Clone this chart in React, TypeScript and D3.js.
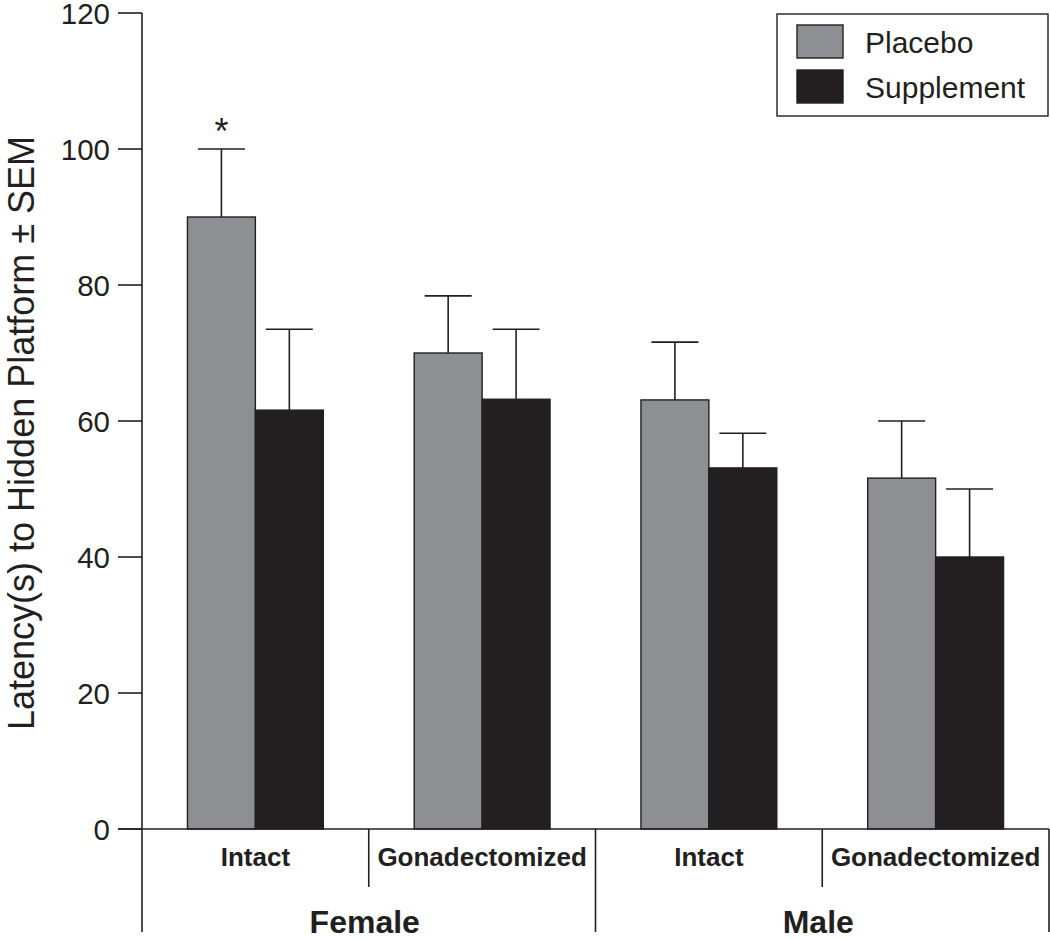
import React from "react";
import * as d3 from "d3";

const sexes = ["Female", "Male"];
const conditions = ["Intact", "Gonadectomized"];
const groups = ["Female-Intact", "Female-Gonadectomized", "Male-Intact", "Male-Gonadectomized"];
const series = ["Placebo", "Supplement"];
const placeboMeans = [90, 70, 63.1, 51.6];
const placeboSEM = [10, 8.4, 8.5, 8.4];
const supplementMeans = [61.6, 63.2, 53.1, 40];
const supplementSEM = [11.9, 10.3, 5.1, 10];
const yTicks = [0, 20, 40, 60, 80, 100, 120];
const significant = [true, false, false, false];
const colors = ["#8e8f93", "#231f20"];

export default function App() {
  const W = 1050, H = 939;
  const axisX = 142, x1 = 1049;
  const y = d3.scaleLinear().domain([0, 120]).range([829, 13]);
  const xg = d3.scaleBand().domain(groups).range([axisX, x1]).paddingInner(0).paddingOuter(0);
  const xs = d3.scaleBand().domain(series).range([0, xg.bandwidth()]).paddingInner(0).paddingOuter(0.5 * (227 - 136) / 68);
  const values = [placeboMeans, supplementMeans];
  const sems = [placeboSEM, supplementSEM];
  const font = "'Liberation Sans', Arial, Helvetica, sans-serif";
  const stroke = "#231f20";
  const y0 = y(0);
  const bw = xs.bandwidth();

  return (
    <svg width={W} height={H} style={{ position: "absolute", left: 0, top: 0 }} fontFamily={font}>
      <rect width={W} height={H} fill="#fff" />
      {/* bars */}
      {groups.map((g, gi) =>
        series.map((s, si) => {
          const v = values[si][gi];
          const bx = (xg(g) as number) + (xs(s) as number);
          const cx = bx + bw / 2;
          const top = y(v + sems[si][gi]);
          return (
            <g key={g + s}>
              <line x1={cx} x2={cx} y1={y(v)} y2={top} stroke={stroke} strokeWidth={1.6} />
              <line x1={cx - 23.5} x2={cx + 23.5} y1={top} y2={top} stroke={stroke} strokeWidth={1.6} />
              <rect x={bx} y={y(v)} width={bw} height={y0 - y(v)} fill={colors[si]} stroke={stroke} strokeWidth={1.4} />
              {si === 0 && significant[gi] && (
                <text x={cx} y={top - 5} textAnchor="middle" fontSize={36} fill={stroke}>*</text>
              )}
            </g>
          );
        })
      )}
      {/* y axis */}
      <line x1={axisX} x2={axisX} y1={y(120)} y2={932} stroke={stroke} strokeWidth={1.6} />
      {yTicks.map((t) => (
        <g key={t}>
          <line x1={118} x2={axisX} y1={y(t)} y2={y(t)} stroke={stroke} strokeWidth={1.6} />
          <text x={110} y={y(t)} dy="0.37em" textAnchor="end" fontSize={29.5} fill={stroke}>{t}</text>
        </g>
      ))}
      {/* x axis */}
      <line x1={118} x2={x1} y1={y0} y2={y0} stroke={stroke} strokeWidth={1.6} />
      {groups.map((g, gi) => {
        const gx = xg(g) as number;
        return (
          <g key={g}>
            {gi > 0 && (
              <line x1={gx} x2={gx} y1={y0} y2={gi % 2 === 0 ? 932 : 887} stroke={stroke} strokeWidth={1.6} />
            )}
            <text x={gx + xg.bandwidth() / 2} y={866} textAnchor="middle" fontSize={26} fontWeight="bold" fill={stroke}>
              {conditions[gi % 2]}
            </text>
          </g>
        );
      })}
      <line x1={x1} x2={x1} y1={y0} y2={932} stroke={stroke} strokeWidth={1.6} />
      {sexes.map((s, i) => {
        const gx = xg(groups[i * 2]) as number;
        return (
          <text key={s} x={gx + xg.bandwidth() - 4} y={933} textAnchor="middle" fontSize={32} fontWeight="bold" fill={stroke}>
            {s}
          </text>
        );
      })}
      {/* y label */}
      <text transform={`translate(34, 433) rotate(-90)`} textAnchor="middle" fontSize={36} fill={stroke}>
        Latency(s) to Hidden Platform ± SEM
      </text>
      {/* legend */}
      <rect x={777} y={14} width={271} height={102} fill="#fff" stroke={stroke} strokeWidth={1.4} />
      {series.map((s, i) => (
        <g key={s}>
          <rect x={797} y={25 + i * 45} width={46} height={33} fill={colors[i]} stroke={stroke} strokeWidth={1.4} />
          <text x={865} y={42 + i * 45} dy="0.36em" fontSize={30} fill={stroke}>{s}</text>
        </g>
      ))}
    </svg>
  );
}
